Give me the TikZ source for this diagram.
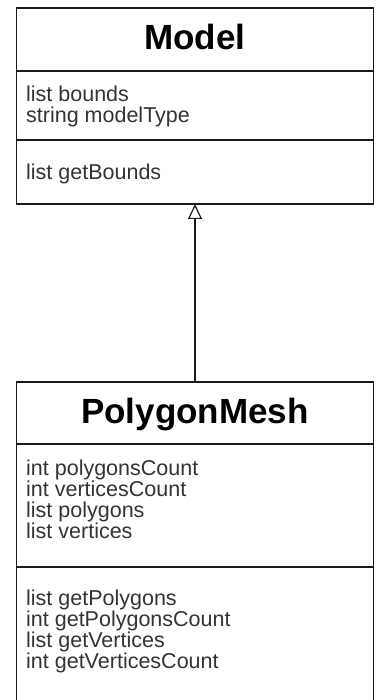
\documentclass[tikz,border=0pt]{standalone}
\usepackage{fontspec}
\setmainfont{Liberation Sans}
\usetikzlibrary{arrows.meta}
\definecolor{linec}{HTML}{1A1A1A}
\definecolor{textc}{HTML}{333333}
\begin{document}
\begin{tikzpicture}[x=1pt,y=-1pt,
  part/.style={draw=linec, line width=1.3pt, minimum width=357pt,
    inner sep=0pt, outer sep=0pt, anchor=north west},
  title/.style={font=\fontsize{35}{40}\selectfont\bfseries, text=black,
    text height=24pt, text depth=3pt},
  member/.style={font=\fontsize{21.5}{21}\selectfont, text=textc,
    anchor=base west, inner sep=0pt},
  inherit/.style={draw=linec, line width=1.2pt,
    -{Triangle[open, width=14pt, length=15pt]}},
]
\useasboundingbox (0,0) rectangle (375,700);
\clip (0,0) rectangle (375,700);

% class Model
\node[part, title, minimum height=63pt] (mhead) at (16.5,8) {Model};
\node[part, minimum height=69pt] (mattr) at (16.5,71) {};
\node[part, minimum height=64pt] (mmeth) at (16.5,140) {};
\node[member] (ma1) at (26,102) {list bounds};
\node[member] (ma2) at (26,123) {string modelType};
\node[member] (mm1) at (26,180) {list getBounds};

% class PolygonMesh (runs past the lower edge)
\node[part, title, minimum height=62pt] (phead) at (16.5,382) {PolygonMesh};
\node[part, minimum height=123pt] (pattr) at (16.5,444) {};
\node[part, minimum height=160pt] (pmeth) at (16.5,567) {};
\node[member] (pa1) at (26,475) {int polygonsCount};
\node[member] (pa2) at (26,496) {int verticesCount};
\node[member] (pa3) at (26,517) {list polygons};
\node[member] (pa4) at (26,538) {list vertices};
\node[member] (pm1) at (26,605) {list getPolygons};
\node[member] (pm2) at (26,626) {int getPolygonsCount};
\node[member] (pm3) at (26,647) {list getVertices};
\node[member] (pm4) at (26,668) {int getVerticesCount};

% generalization
\draw[inherit] (phead.north) -- (mmeth.south);
\end{tikzpicture}
\end{document}
